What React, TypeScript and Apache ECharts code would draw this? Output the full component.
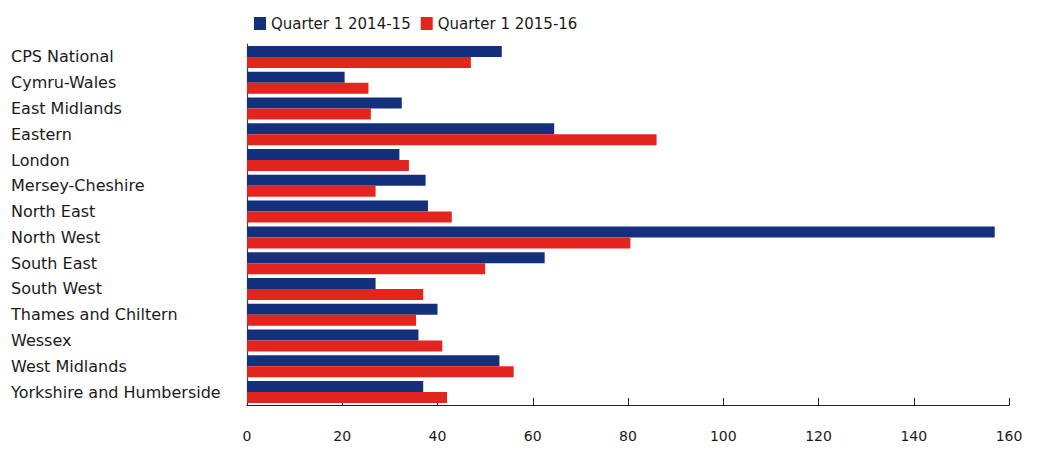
import React, { useEffect, useRef } from "react";
import * as echarts from "echarts";

const categories = [
  "CPS National",
  "Cymru-Wales",
  "East Midlands",
  "Eastern",
  "London",
  "Mersey-Cheshire",
  "North East",
  "North West",
  "South East",
  "South West",
  "Thames and Chiltern",
  "Wessex",
  "West Midlands",
  "Yorkshire and Humberside",
];

const q1_2014_15 = [53.5, 20.5, 32.5, 64.5, 32, 37.5, 38, 157, 62.5, 27, 40, 36, 53, 37];
const q1_2015_16 = [47, 25.5, 26, 86, 34, 27, 43, 80.5, 50, 37, 35.5, 41, 56, 42];

const xTicks = [0, 20, 40, 60, 80, 100, 120, 140, 160];

const FONT = "DejaVu Sans";
const NAVY = "#14307c";
const RED = "#e2261f";

export default function App() {
  const ref = useRef<HTMLDivElement>(null);

  useEffect(() => {
    if (!ref.current) return;
    const chart = echarts.init(ref.current, undefined, { renderer: "svg" });
    chart.setOption({
      animation: false,
      backgroundColor: "#ffffff",
      textStyle: { fontFamily: FONT },
      legend: {
        left: 249,
        top: 11,
        icon: "rect",
        itemWidth: 12,
        itemHeight: 13,
        itemGap: 10,
        textStyle: { fontFamily: FONT, fontSize: 15, color: "#1a1a1a" },
        data: ["Quarter 1 2014-15", "Quarter 1 2015-16"],
      },
      grid: { left: 247, right: 37, top: 44, bottom: 45, containLabel: false },
      xAxis: {
        type: "value",
        min: xTicks[0],
        max: xTicks[xTicks.length - 1],
        interval: xTicks[1] - xTicks[0],
        splitLine: { show: false },
        axisLine: { show: true, lineStyle: { color: "#222", width: 1.2 } },
        axisTick: { show: true, inside: true, length: 7, lineStyle: { color: "#222" } },
        axisLabel: { fontFamily: FONT, fontSize: 14, color: "#1a1a1a", margin: 24 },
      },
      yAxis: {
        type: "category",
        inverse: true,
        data: categories,
        axisLine: { show: true, lineStyle: { color: "#444", width: 1.2 } },
        axisTick: { show: false },
        axisLabel: {
          fontFamily: FONT,
          fontSize: 16,
          color: "#1a1a1a",
          align: "left",
          margin: 236,
        },
      },
      series: [
        {
          name: "Quarter 1 2014-15",
          type: "bar",
          data: q1_2014_15,
          barWidth: 11,
          barGap: "0%",
          itemStyle: { color: NAVY },
        },
        {
          name: "Quarter 1 2015-16",
          type: "bar",
          data: q1_2015_16,
          barWidth: 11,
          barGap: "0%",
          itemStyle: { color: RED },
        },
      ],
    });
    return () => chart.dispose();
  }, []);

  return (
    <div
      ref={ref}
      style={{ position: "fixed", left: 0, top: 0, width: 1046, height: 450 }}
    />
  );
}
